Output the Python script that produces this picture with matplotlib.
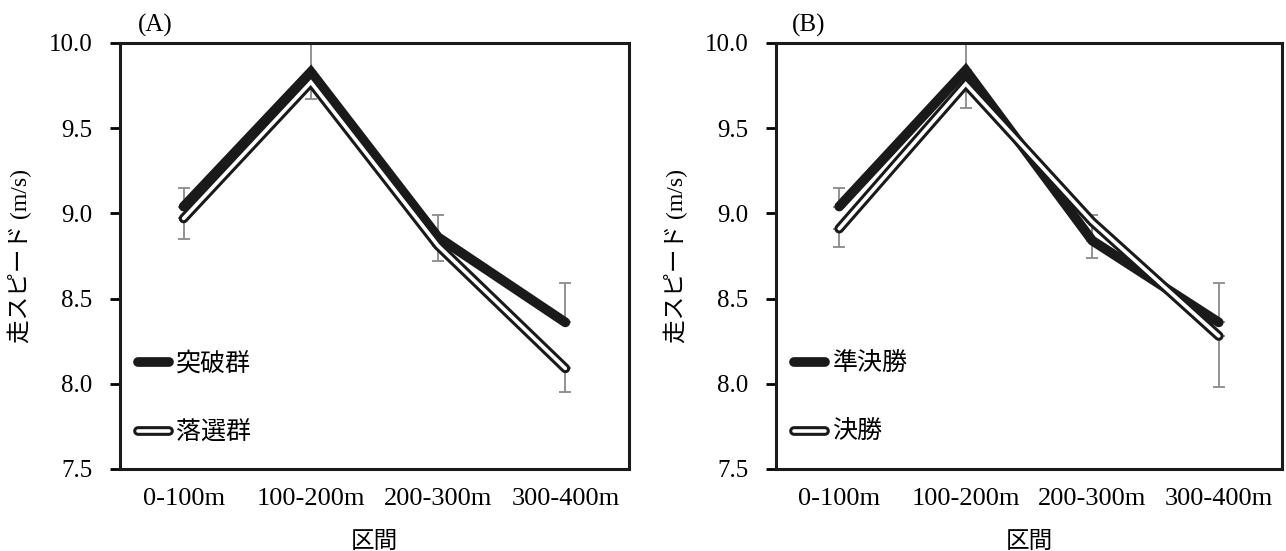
import matplotlib.pyplot as plt
import numpy as np

plt.rcParams['font.family'] = ['Liberation Serif', 'Noto Sans CJK JP']

sections = ['0-100m', '100-200m', '200-300m', '300-400m']
yticks = [7.5, 8.0, 8.5, 9.0, 9.5, 10.0]

# panel A
a_names = ['突破群', '落選群']
a_black = [9.04, 9.83, 8.86, 8.36]
a_black_up = [0.11, 0.17, 0.13, 0.23]
a_white = [8.97, 9.77, 8.81, 8.09]
a_white_dn = [0.12, 0.10, 0.09, 0.14]

# panel B
b_names = ['準決勝', '決勝']
b_black = [9.04, 9.84, 8.84, 8.36]
b_black_up = [0.11, 0.16, 0.15, 0.23]
b_white = [8.91, 9.76, 8.95, 8.28]
b_white_dn = [0.11, 0.14, 0.21, 0.30]

cjk = ['Noto Sans CJK JP']
ebar_col = '#8a8a8a'
ink = '#1a1a1a'

fig = plt.figure(figsize=(12.86, 5.51), dpi=100)
ax1 = fig.add_axes([0.0933, 0.149, 0.3958, 0.773])
ax2 = fig.add_axes([0.6034, 0.149, 0.3935, 0.773])


def draw(ax, names, black, black_up, white, white_dn, tag, tagx):
    x = np.arange(len(sections))
    ax.errorbar(x, black, yerr=[np.zeros(4), black_up], fmt='none',
                ecolor=ebar_col, elinewidth=1.3, capsize=4, capthick=1.3, zorder=1)
    ax.errorbar(x, white, yerr=[white_dn, np.zeros(4)], fmt='none',
                ecolor=ebar_col, elinewidth=1.3, capsize=4, capthick=1.3, zorder=1)
    l1, = ax.plot(x, black, color=ink, lw=7, solid_capstyle='round',
                  solid_joinstyle='miter', zorder=3)
    l2, = ax.plot(x, white, color=ink, lw=7, solid_capstyle='round',
                  solid_joinstyle='miter', zorder=4)
    l3, = ax.plot(x, white, color='white', lw=2.6, solid_capstyle='round',
                  solid_joinstyle='miter', zorder=5)
    ax.set_xlim(-0.5, 3.5)
    ax.set_ylim(7.5, 10.0)
    ax.set_xticks(x)
    ax.set_xticklabels(sections, fontsize=19)
    ax.set_yticks(yticks)
    ax.set_yticklabels(['%.1f' % v for v in yticks], fontsize=18)
    ax.tick_params(axis='x', length=0, pad=14)
    ax.tick_params(axis='y', length=7, width=2, direction='out', pad=13)
    for s in ax.spines.values():
        s.set_linewidth(2.2)
        s.set_color(ink)
    ax.set_xlabel('区間', family=cjk, fontsize=17, labelpad=14)
    ax.set_ylabel('走スピード (m/s)', fontsize=17, labelpad=12)
    ax.text(tagx, 1.015, tag, transform=ax.transAxes, fontsize=18,
            va='bottom', ha='left')
    leg = ax.legend([l1, (l2, l3)], names, loc='lower left',
                    bbox_to_anchor=(0.005, 0.02), frameon=False,
                    prop={'family': cjk, 'size': 18}, handlelength=1.25,
                    handletextpad=0.3, labelspacing=1.7, borderaxespad=0.2)
    return leg


draw(ax1, a_names, a_black, a_black_up, a_white, a_white_dn, '(A)', 0.035)
draw(ax2, b_names, b_black, b_black_up, b_white, b_white_dn, '(B)', 0.032)

fig.savefig('out.png', dpi=100)
